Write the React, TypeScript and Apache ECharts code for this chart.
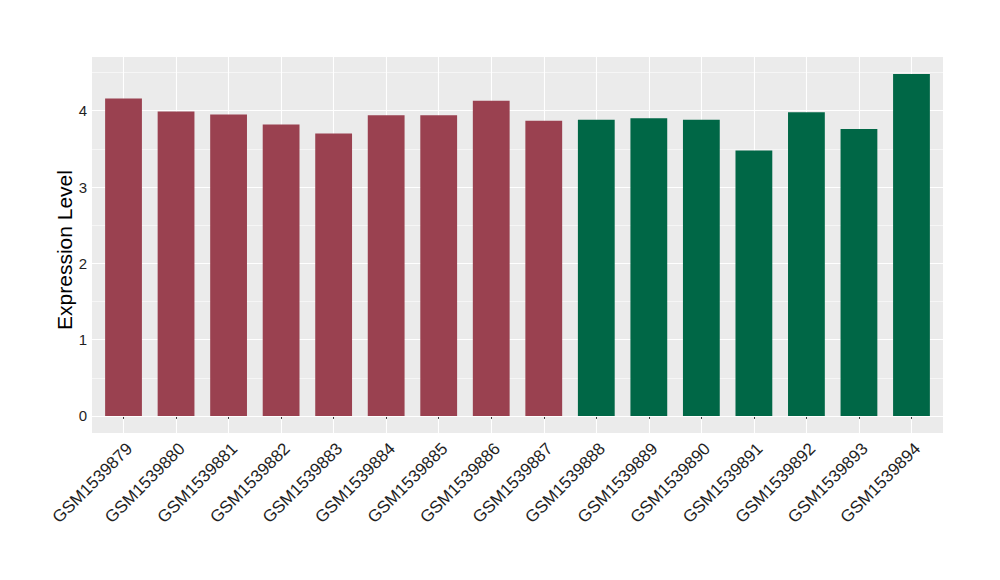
import React, { useEffect, useRef } from 'react';
import * as echarts from 'echarts';

const categories = [
  'GSM1539879', 'GSM1539880', 'GSM1539881', 'GSM1539882', 'GSM1539883', 'GSM1539884',
  'GSM1539885', 'GSM1539886', 'GSM1539887', 'GSM1539888', 'GSM1539889', 'GSM1539890',
  'GSM1539891', 'GSM1539892', 'GSM1539893', 'GSM1539894',
];
const values = [4.16, 3.99, 3.95, 3.82, 3.70, 3.94, 3.94, 4.13, 3.87, 3.88, 3.90, 3.88, 3.48, 3.98, 3.76, 4.48];
const groupOf = [0, 0, 0, 0, 0, 0, 0, 0, 0, 1, 1, 1, 1, 1, 1, 1];
const groupColors = ['#9A4150', '#006746'];
const yMajorTicks = [0, 1, 2, 3, 4];
const yMinorTicks = [0.5, 1.5, 2.5, 3.5, 4.5];
const yRange = [-0.224, 4.704];
const xRange = [-0.6, 15.6];

const FONT = 'Liberation Sans, Arial, Helvetica, sans-serif';

export default function App() {
  const ref = useRef<HTMLDivElement>(null);
  useEffect(() => {
    const chart = echarts.init(ref.current!, null, { renderer: 'svg' });
    const option = {
      animation: false,
      backgroundColor: '#ffffff',
      grid: [
        { left: 92, right: 57, top: 57, bottom: 147, show: true, backgroundColor: '#EBEBEB', borderWidth: 0 },
        { left: 123.5, right: 88.5, top: 57, bottom: 147 },
      ],
      xAxis: [
        { type: 'value', gridIndex: 0, min: xRange[0], max: xRange[1], show: false },
        {
          type: 'value', gridIndex: 1, min: 0, max: categories.length - 1, interval: 1,
          axisLine: { show: false },
          axisTick: { show: true, length: 3, lineStyle: { color: '#333333', width: 1 } },
          axisLabel: {
            formatter: (v: number) => categories[v] ?? '',
            rotate: 45, fontSize: 17, color: '#1f1f1f', fontFamily: FONT,
            margin: 7, align: 'right', verticalAlign: 'top',
          },
          splitLine: { show: true, lineStyle: { color: '#ffffff', width: 1.1 } },
        },
      ],
      yAxis: [
        {
          type: 'value', gridIndex: 0, min: yRange[0], max: yRange[1],
          axisLine: { show: false },
          axisTick: { show: true, customValues: yMajorTicks, length: 3, lineStyle: { color: '#333333', width: 1 } },
          axisLabel: { customValues: yMajorTicks, fontSize: 15, color: '#1f1f1f', fontFamily: FONT, margin: 5 },
          splitLine: { show: false },
          name: 'Expression Level', nameLocation: 'middle', nameGap: 17, nameMoveOverlap: false,
          nameTextStyle: { fontSize: 21, color: '#000000', fontFamily: FONT, padding: [0, 10, 0, 0] },
        },
        { type: 'value', gridIndex: 1, min: yRange[0], max: yRange[1], show: false },
      ],
      series: [
        {
          type: 'bar', xAxisIndex: 0, yAxisIndex: 0, barWidth: 36.8, z: 3,
          data: values.map((v, i) => ({ value: [i, v], itemStyle: { color: groupColors[groupOf[i]] } })),
          markLine: {
            silent: true, z: 1, symbol: ['none', 'none'], label: { show: false },
            data: [
              ...yMajorTicks.map((t) => ({ yAxis: t, lineStyle: { color: '#ffffff', width: 1.1, type: 'solid' } })),
              ...yMinorTicks.map((t) => ({ yAxis: t, lineStyle: { color: '#ffffff', width: 0.55, type: 'solid' } })),
            ],
          },
        },
      ],
    };
    chart.setOption(option as any);
    return () => chart.dispose();
  }, []);
  return <div ref={ref} style={{ position: 'fixed', left: 0, top: 0, width: 1000, height: 580 }} />;
}
